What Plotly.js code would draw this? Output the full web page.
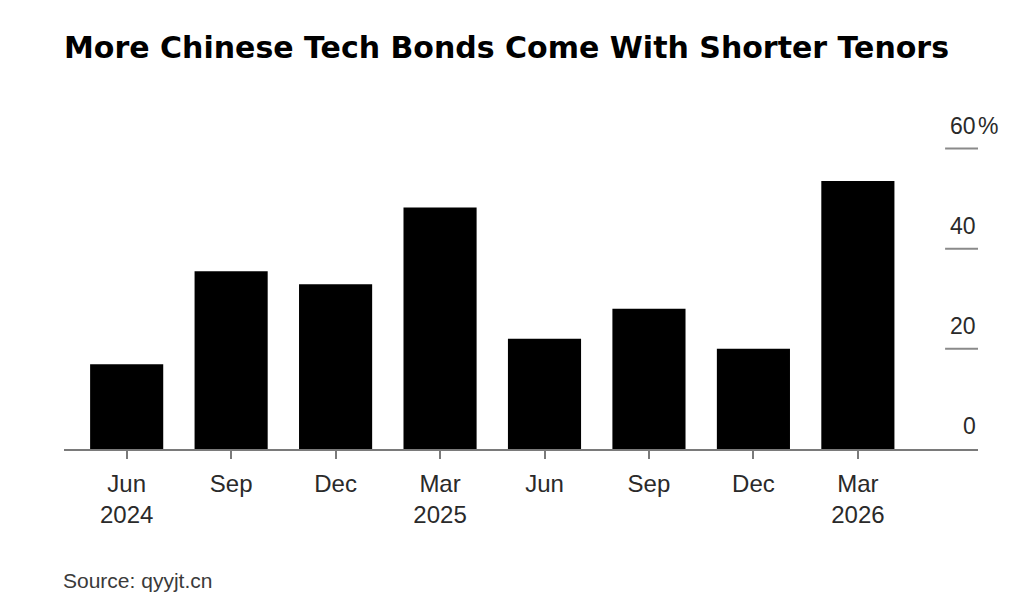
<!DOCTYPE html>
<html>
<head>
<meta charset="utf-8">
<script src="https://cdn.plot.ly/plotly-3.0.1.min.js"></script>
<style>html,body{margin:0;padding:0;background:#fff;}#chart{width:1024px;height:613px;}</style>
</head>
<body>
<div id="chart"></div>
<script>
const categories = ["Jun<br>2024", "Sep", "Dec", "Mar<br>2025", "Jun", "Sep", "Dec", "Mar<br>2026"];
const shareShortTenor = [16.9, 35.5, 32.9, 48.2, 22.0, 28.0, 20.0, 53.5];
const yTickVals = [0, 20, 40, 60];
const yTickText = ["0", "20", "40", "60"];
const topTickSuffix = "%";

const xIdx = categories.map((_, i) => i);

const trace = {
  type: "bar",
  x: xIdx,
  y: shareShortTenor,
  marker: {color: "#000000", line: {width: 0}},
  hoverinfo: "skip"
};

const shapes = yTickVals.filter(v => v !== 0).map(v => ({
  type: "line", xref: "paper", yref: "y",
  x0: 0.964, x1: 1.0, y0: v, y1: v,
  line: {color: "#8a8a8a", width: 2}
}));

const labelFont = {family: "Liberation Sans, Arial, sans-serif", size: 23, color: "#2a2a2a"};
const annotations = yTickVals.map((v, i) => ({
  xref: "paper", yref: "y", x: 1.0, y: v,
  xanchor: "right", yanchor: "middle", yshift: 23,
  text: yTickText[i], showarrow: false, font: labelFont
}));
annotations.push({
  xref: "paper", yref: "y", x: 1.0, y: yTickVals[yTickVals.length - 1],
  xanchor: "left", yanchor: "middle", yshift: 23, xshift: -2,
  text: topTickSuffix, showarrow: false, font: labelFont
});
annotations.push({
  xref: "paper", yref: "paper", x: 0, y: -0.424,
  xanchor: "left", yanchor: "middle", xshift: -3,
  text: "Source: qyyjt.cn", showarrow: false,
  font: {family: "Liberation Sans, Arial, sans-serif", size: 21, color: "#3a3a3a"}
});

const layout = {
  width: 1024, height: 613,
  margin: {l: 64, r: 46, t: 140, b: 164},
  paper_bgcolor: "#ffffff", plot_bgcolor: "#ffffff",
  showlegend: false,
  bargap: 0.30,
  title: {
    text: "<b>More Chinese Tech Bonds Come With Shorter Tenors</b>",
    x: 64 / 1024, xanchor: "left", xref: "container",
    y: 1 - 47 / 613, yanchor: "middle", yref: "container",
    font: {family: "DejaVu Sans, sans-serif", size: 30, color: "#000000"}
  },
  xaxis: {
    range: [-0.6, 8.15],
    tickmode: "array", tickvals: xIdx, ticktext: categories,
    showline: true, linecolor: "#7a7a7a", linewidth: 2,
    ticks: "outside", ticklen: 8, tickwidth: 2, tickcolor: "#7a7a7a",
    ticklabelstandoff: 4,
    showgrid: false, zeroline: false, fixedrange: true,
    tickfont: {family: "Liberation Sans, Arial, sans-serif", size: 24, color: "#2a2a2a"}
  },
  yaxis: {
    range: [0, 61.7],
    showticklabels: false, showgrid: false, zeroline: false, showline: false,
    ticks: "", fixedrange: true
  },
  shapes: shapes,
  annotations: annotations
};

Plotly.newPlot("chart", [trace], layout, {displayModeBar: false, staticPlot: true});
</script>
</body>
</html>
